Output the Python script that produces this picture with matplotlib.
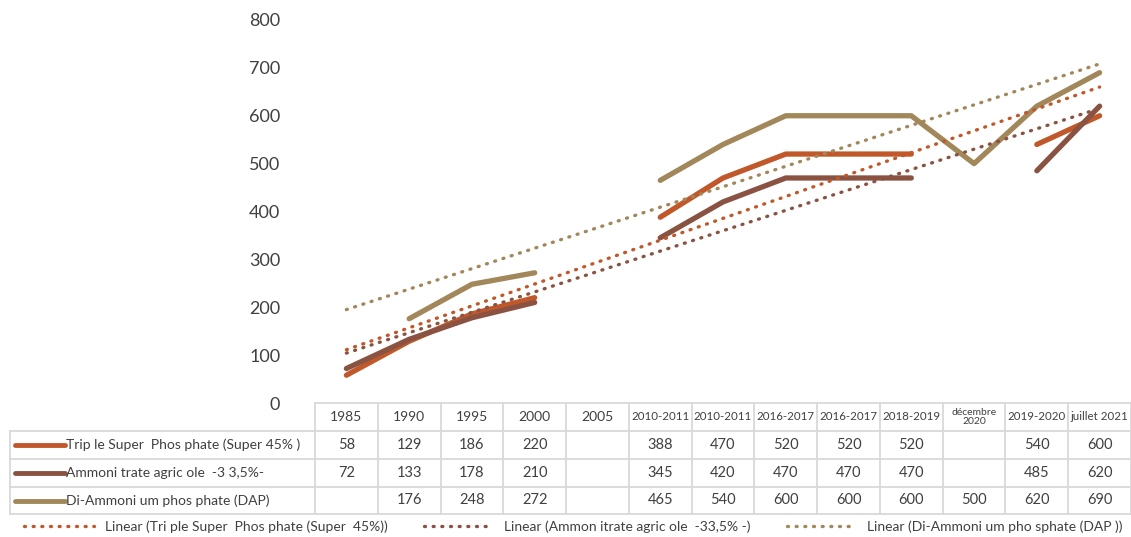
import numpy as np
import matplotlib
matplotlib.use("Agg")
import matplotlib.pyplot as plt
from matplotlib.lines import Line2D

plt.rcParams['font.family'] = ['Lato', 'DejaVu Sans']

categories = ['1985', '1990', '1995', '2000', '2005', '2010-2011', '2010-2011',
              '2016-2017', '2016-2017', '2018-2019', 'décembre\n2020', '2019-2020', 'juillet 2021']
tsp = [58, 129, 186, 220, None, 388, 470, 520, 520, 520, None, 540, 600]
amm = [72, 133, 178, 210, None, 345, 420, 470, 470, 470, None, 485, 620]
dap = [None, 176, 248, 272, None, 465, 540, 600, 600, 600, 500, 620, 690]

names = ['Trip le Super  Phos phate (Super 45% )',
         'Ammoni trate agric ole  -3 3,5%-',
         'Di-Ammoni um phos phate (DAP)']
trend_names = ['Linear (Tri ple Super  Phos phate (Super  45%))',
               'Linear (Ammon itrate agric ole  -33,5% -)',
               'Linear (Di-Ammoni um pho sphate (DAP ))']
colors = ['#C0582A', '#8A5341', '#A2875A']
series = [tsp, amm, dap]

W, H = 1131, 537
fig = plt.figure(figsize=(W / 100, H / 100), dpi=100)
left, right, top, bottom = 315, 1131, 20, 403
ax = fig.add_axes([left / W, 1 - bottom / H, (right - left) / W, (bottom - top) / H])

x = np.arange(len(categories))
for vals, c in zip(series, colors):
    y = np.array([np.nan if v is None else v for v in vals], dtype=float)
    ax.plot(x, y, color=c, lw=3.8, solid_capstyle='round', zorder=3)

# excel style linear trendlines (x = 1..n, missing points skipped)
dots = (0, (0.3, 2.3))
for vals, c in zip(series, colors):
    xs = np.array([i + 1 for i, v in enumerate(vals) if v is not None])
    ys = np.array([v for v in vals if v is not None], dtype=float)
    k, b = np.polyfit(xs, ys, 1)
    ax.plot(x, k * (x + 1) + b, color=c, lw=2.4, linestyle=dots,
            dash_capstyle='round', zorder=4)

ax.set_xlim(-0.5, len(categories) - 0.5)
ax.set_ylim(0, 800)
ax.set_yticks(range(0, 801, 100))
ax.tick_params(axis='y', length=0, labelsize=13, labelcolor='#404040', pad=25)
ax.set_xticks([])
for s in ax.spines.values():
    s.set_visible(False)

# data table below the plot
tr = ax.get_xaxis_transform()
ph = bottom - top
rows_px = [403, 431, 459, 487, 514]
rows = [-(r - bottom) / ph for r in rows_px]
colw = (right - left) / len(categories)
xlab = -0.5 - (left - 10) / colw
xend = len(categories) - 0.5
grid = dict(color='#D9D9D9', lw=1.3, transform=tr, clip_on=False)

ax.plot([-0.5, xend], [rows[0], rows[0]], **grid)
for r in rows[1:]:
    ax.plot([xlab, xend], [r, r], **grid)
ax.plot([xlab, xlab], [rows[1], rows[-1]], **grid)
for i in range(len(categories) + 1):
    ax.plot([i - 0.5, i - 0.5], [rows[0], rows[-1]], **grid)

for i, cat in enumerate(categories):
    ymid = (rows[0] + rows[1]) / 2
    if '\n' in cat:
        ax.text(i, ymid, cat, transform=tr, ha='center', va='center', fontsize=7.5,
                color='#404040', linespacing=0.9, clip_on=False)
    else:
        fs = 10 if len(cat) <= 4 else 8.3
        ax.text(i, ymid, cat, transform=tr, ha='center', va='center', fontsize=fs,
                color='#404040', clip_on=False)

for j, (vals, c, name) in enumerate(zip(series, colors, names)):
    ymid = (rows[j + 1] + rows[j + 2]) / 2
    ax.plot([xlab + 0.08, xlab + 0.88], [ymid, ymid], color=c, lw=3.5,
            solid_capstyle='round', transform=tr, clip_on=False)
    ax.text(xlab + 0.9, ymid, name, transform=tr, ha='left', va='center',
            fontsize=10, color='#404040', clip_on=False)
    for i, v in enumerate(vals):
        if v is not None:
            ax.text(i, ymid, str(v), transform=tr, ha='center', va='center',
                    fontsize=10.5, color='#404040', clip_on=False)

handles = [Line2D([], [], color=c, lw=2.4, linestyle=dots,
                  dash_capstyle='round') for c in colors]
fig.legend(handles, trend_names, loc='center', bbox_to_anchor=(0.507, 1 - 527 / H),
           ncol=3, frameon=False, fontsize=10, handlelength=5, columnspacing=2.6,
           labelcolor='#404040')

fig.savefig('out.png', dpi=100)
